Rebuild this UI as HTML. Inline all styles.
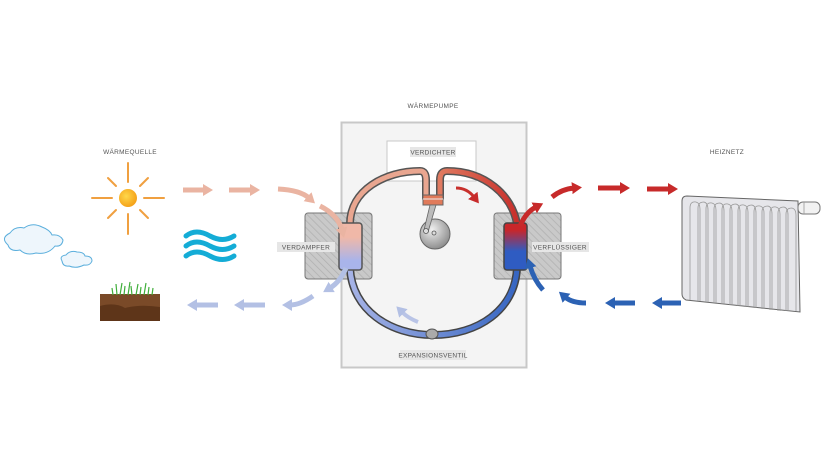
<!DOCTYPE html>
<html><head><meta charset="utf-8"><style>
html,body{margin:0;padding:0;background:#fff;}
svg{display:block}
text{font-family:"Liberation Sans",sans-serif;font-size:6.5px;fill:#555;letter-spacing:0.3px}
</style></head><body>
<svg width="838" height="471" viewBox="0 0 838 471" xmlns="http://www.w3.org/2000/svg">
<defs>
<pattern id="hatch" width="5" height="5" patternUnits="userSpaceOnUse" patternTransform="rotate(-45)">
<rect width="5" height="5" fill="#c9c9c9"/><line x1="0" y1="0" x2="0" y2="5" stroke="#b0b0b0" stroke-width="1.5"/>
</pattern>
<linearGradient id="evap" x1="0" y1="0" x2="0" y2="1"><stop offset="0.3" stop-color="#f0b8a8"/><stop offset="0.8" stop-color="#a9b4ea"/></linearGradient>
<linearGradient id="cond" x1="0" y1="0" x2="0" y2="1"><stop offset="0.15" stop-color="#c8262a"/><stop offset="0.6" stop-color="#2f5cc2"/></linearGradient>
<linearGradient id="bot" x1="0" y1="0" x2="1" y2="0"><stop offset="0" stop-color="#a6b3e6"/><stop offset="1" stop-color="#3766c2"/></linearGradient>
<linearGradient id="topr" x1="0" y1="0" x2="1" y2="0"><stop offset="0" stop-color="#e07a60"/><stop offset="1" stop-color="#c8302c"/></linearGradient>
<radialGradient id="sun" cx="0.4" cy="0.4" r="0.7"><stop offset="0" stop-color="#ffd84a"/><stop offset="1" stop-color="#f39a12"/></radialGradient>
<radialGradient id="wheel" cx="0.4" cy="0.35" r="0.7"><stop offset="0" stop-color="#f0f0f0"/><stop offset="1" stop-color="#888"/></radialGradient>
<marker id="mp" markerUnits="userSpaceOnUse" markerWidth="12" markerHeight="12" refX="2" refY="6" orient="auto"><path d="M0,0 L10,6 L0,12 Z" fill="#eab4a2"/></marker>
<marker id="ml" markerUnits="userSpaceOnUse" markerWidth="12" markerHeight="12" refX="2" refY="6" orient="auto"><path d="M0,0 L10,6 L0,12 Z" fill="#b3c0e4"/></marker>
<marker id="mr" markerUnits="userSpaceOnUse" markerWidth="12" markerHeight="12" refX="2" refY="6" orient="auto"><path d="M0,0 L10,6 L0,12 Z" fill="#c72a2a"/></marker>
<marker id="mb" markerUnits="userSpaceOnUse" markerWidth="12" markerHeight="12" refX="2" refY="6" orient="auto"><path d="M0,0 L10,6 L0,12 Z" fill="#2c62b4"/></marker>
</defs>

<!-- Wärmepumpe box -->
<rect x="341.5" y="122.5" width="185" height="245" fill="#f4f4f4" stroke="#c8c8c8" stroke-width="2"/>
<text x="433" y="108" text-anchor="middle">WÄRMEPUMPE</text>
<rect x="387" y="141" width="89" height="40" fill="#fff" stroke="#c8c8c8" stroke-width="1"/>
<rect x="410" y="147" width="46" height="10" fill="#e6e6e6"/>
<text x="433" y="154.5" text-anchor="middle">VERDICHTER</text>

<!-- exchangers -->
<rect x="305" y="213" width="67" height="66" rx="3" fill="url(#hatch)" stroke="#777" stroke-width="1"/>
<rect x="494" y="213" width="67" height="66" rx="3" fill="url(#hatch)" stroke="#777" stroke-width="1"/>

<!-- pipes -->
<g fill="none" stroke-linecap="round">
<path d="M350,224 C350,190 385,171 420,171 Q426,171 426,180 L426,198" stroke="#555" stroke-width="8"/>
<path d="M350,224 C350,190 385,171 420,171 Q426,171 426,180 L426,198" stroke="#e9a690" stroke-width="5"/>
<path d="M440,198 L440,180 Q440,171 447,171 C485,171 512,195 517,224" stroke="#555" stroke-width="8"/>
<path d="M440,198 L440,180 Q440,171 447,171 C485,171 512,195 517,224" stroke="url(#topr)" stroke-width="5"/>
<path d="M350,268 C352,310 390,335 433,335 C478,335 515,310 517,268" stroke="#444" stroke-width="8"/>
<path d="M350,268 C352,310 390,335 433,335 C478,335 515,310 517,268" stroke="url(#bot)" stroke-width="5"/>
</g>
<!-- tanks -->
<rect x="339" y="223" width="23" height="47" rx="3" fill="url(#evap)" stroke="#555" stroke-width="1.5"/>
<rect x="504" y="223" width="23" height="47" rx="3" fill="url(#cond)" stroke="#444" stroke-width="1.5"/>
<rect x="277" y="242" width="58" height="10" fill="#e6e6e6"/>
<text x="306" y="249.5" text-anchor="middle">VERDAMPFER</text>
<rect x="532" y="242" width="57" height="10" fill="#e6e6e6"/>
<text x="560" y="249.5" text-anchor="middle">VERFLÜSSIGER</text>

<!-- compressor -->
<rect x="423" y="195" width="20" height="10" fill="#e07a5a" stroke="#666" stroke-width="1"/>
<line x1="423" y1="199" x2="443" y2="199" stroke="#eee" stroke-width="1"/>
<circle cx="435" cy="234" r="15" fill="url(#wheel)" stroke="#666" stroke-width="1"/>
<path d="M430,205 L436,205 L428,232 L424,230 Z" fill="#bbb" stroke="#666" stroke-width="0.8"/>
<circle cx="426" cy="231" r="2.5" fill="#ddd" stroke="#555" stroke-width="0.8"/>
<circle cx="434" cy="233" r="2" fill="#ddd" stroke="#555" stroke-width="0.8"/>
<!-- expansion valve -->
<ellipse cx="432" cy="334" rx="6" ry="5" fill="#aaa" stroke="#555" stroke-width="1"/>
<rect x="400" y="350" width="66" height="10" fill="#e6e6e6"/>
<text x="433" y="357.5" text-anchor="middle">EXPANSIONSVENTIL</text>

<!-- internal arrows -->
<path d="M456,188 Q467,188 474,197" fill="none" stroke="#c8302c" stroke-width="3" marker-end="url(#mr)"/>
<path d="M418,322 Q408,318 402,312" fill="none" stroke="#b9c4e6" stroke-width="4" marker-end="url(#ml)"/>

<!-- left arrows -->
<g fill="none" stroke-width="5">
<path d="M183,190 L205,190" stroke="#eab4a2" marker-end="url(#mp)"/>
<path d="M229,190 L252,190" stroke="#eab4a2" marker-end="url(#mp)"/>
<path d="M278,189 Q300,190 309,198" stroke="#eab4a2" marker-end="url(#mp)"/>
<path d="M320,206 Q338,215 342,230" stroke="#eab4a2" marker-end="url(#mp)"/>
<path d="M346,268 Q340,282 330,288" stroke="#b3c0e4" marker-end="url(#ml)"/>
<path d="M313,296 Q300,305 290,305" stroke="#b3c0e4" marker-end="url(#ml)"/>
<path d="M265,305 L242,305" stroke="#b3c0e4" marker-end="url(#ml)"/>
<path d="M218,305 L195,305" stroke="#b3c0e4" marker-end="url(#ml)"/>
</g>
<!-- right arrows -->
<g fill="none" stroke-width="5">
<path d="M520,226 Q526,212 536,207" stroke="#c72a2a" marker-end="url(#mr)"/>
<path d="M552,197 Q562,189 574,188" stroke="#c72a2a" marker-end="url(#mr)"/>
<path d="M598,188 L622,188" stroke="#c72a2a" marker-end="url(#mr)"/>
<path d="M647,189 L670,189" stroke="#c72a2a" marker-end="url(#mr)"/>
<path d="M681,303 L660,303" stroke="#2c62b4" marker-end="url(#mb)"/>
<path d="M635,303 L613,303" stroke="#2c62b4" marker-end="url(#mb)"/>
<path d="M586,303 Q572,303 565,297" stroke="#2c62b4" marker-end="url(#mb)"/>
<path d="M543,290 Q534,280 530,266" stroke="#2c62b4" marker-end="url(#mb)"/>
</g>

<!-- Wärmequelle -->
<text x="130" y="154" text-anchor="middle">WÄRMEQUELLE</text>
<g stroke="#f0a040" stroke-width="2" stroke-linecap="round">
<line x1="128" y1="163" x2="128" y2="182"/><line x1="128" y1="214" x2="128" y2="234"/>
<line x1="92" y1="198" x2="112" y2="198"/><line x1="144" y1="198" x2="164" y2="198"/>
<line x1="108" y1="178" x2="116" y2="186"/><line x1="140" y1="210" x2="148" y2="218"/>
<line x1="148" y1="178" x2="140" y2="186"/><line x1="116" y1="210" x2="108" y2="218"/>
</g>
<circle cx="128" cy="198" r="9" fill="url(#sun)"/>
<!-- clouds -->
<path d="M8,245 Q0,238 10,233 Q15,226 24,228 Q32,222 42,227 Q50,230 52,235 Q60,234 63,240 Q62,247 55,246 Q48,255 36,253 Q26,256 20,250 Q10,252 8,245 Z" fill="#eef6fc" stroke="#5aaedc" stroke-width="1"/>
<path d="M62,261 Q59,256 66,255 Q70,250 77,252 Q84,252 85,256 Q92,256 92,261 Q90,266 84,265 Q76,269 69,266 Q63,267 62,261 Z" fill="#eef6fc" stroke="#5aaedc" stroke-width="1"/>
<!-- waves -->
<g fill="none" stroke="#14acd6" stroke-width="5" stroke-linecap="round">
<path d="M186,236 Q196,228 210,236 Q223,243 234,236"/>
<path d="M186,246 Q196,238 210,246 Q223,253 234,246"/>
<path d="M186,256 Q196,248 210,256 Q223,263 234,256"/>
</g>
<!-- soil -->
<rect x="100" y="294" width="60" height="27" fill="#7a4a28"/>
<path d="M100,306 Q115,302 125,308 Q140,304 160,307 L160,321 L100,321 Z" fill="#5e3519"/>
<g stroke="#3fae3a" stroke-width="1.2">
<path d="M117,295 L116,284 M120,295 L122,283 M124,295 L125,286 M128,295 L130,282 M132,295 L131,286 M136,295 L138,284 M140,295 L141,287 M144,295 L146,283 M148,295 L149,287 M152,295 L153,288 M113,295 L112,288"/>
</g>
<!-- Heiznetz -->
<text x="727" y="154" text-anchor="middle">HEIZNETZ</text>
<path d="M687,196 L798,201 L800,312 L686,300 Q682,298 682,294 L682,201 Q682,196 687,196 Z" fill="#e6e6ea" stroke="#666" stroke-width="1"/>
<g fill="none" stroke="#999" stroke-width="0.8">
<path d="M690,300 V208 Q690,201 696,202 Q700,203 700,209 V301"/>
<path d="M698,301 V208 Q698,202 704,202 Q708,203 708,210 V302"/>
<path d="M706,302 V209 Q706,202 712,203 Q716,204 716,210 V303"/>
<path d="M714,303 V209 Q714,203 720,203 Q724,204 724,211 V304"/>
<path d="M722,304 V210 Q722,203 728,204 Q732,205 732,211 V305"/>
<path d="M730,305 V210 Q730,204 736,204 Q740,205 740,212 V306"/>
<path d="M738,306 V211 Q738,204 744,205 Q748,206 748,212 V307"/>
<path d="M746,307 V211 Q746,205 752,205 Q756,206 756,213 V308"/>
<path d="M754,308 V212 Q754,205 760,206 Q764,207 764,213 V309"/>
<path d="M762,309 V212 Q762,206 768,206 Q772,207 772,214 V310"/>
<path d="M770,310 V213 Q770,206 776,207 Q780,208 780,214 V311"/>
<path d="M778,311 V213 Q778,207 784,207 Q788,208 788,215 V311"/>
<path d="M786,311 V214 Q786,208 792,208 Q796,209 796,215 V311"/>
</g>
<rect x="798" y="202" width="22" height="12" rx="5" fill="#f2f2f2" stroke="#777" stroke-width="1"/>
<line x1="804" y1="202" x2="804" y2="214" stroke="#999" stroke-width="0.8"/>
</svg>
</body></html>
